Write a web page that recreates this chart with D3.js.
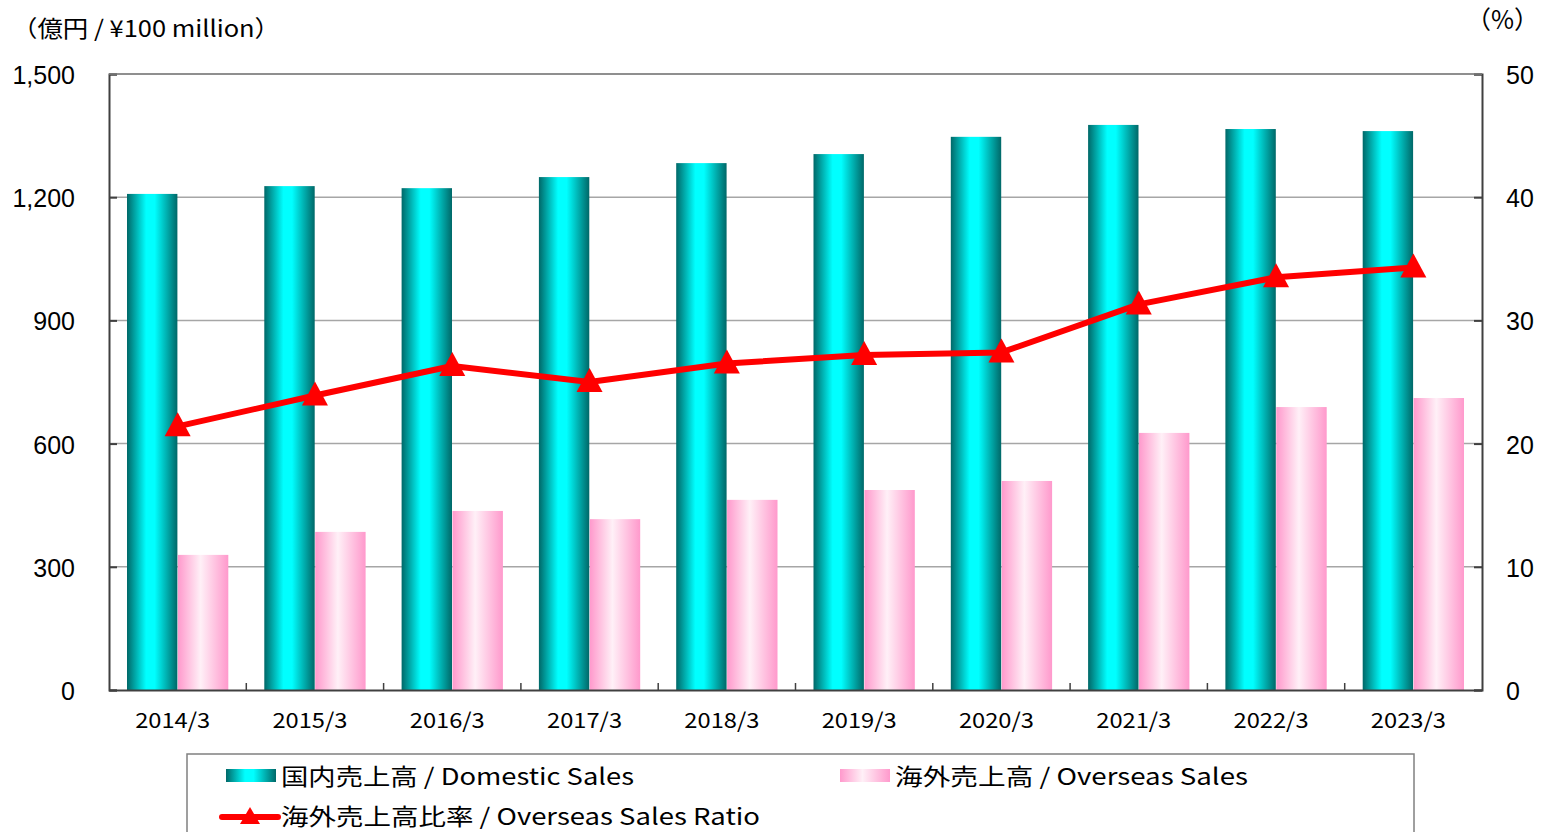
<!DOCTYPE html>
<html>
<head>
<meta charset="utf-8">
<script src="https://cdn.jsdelivr.net/npm/d3@7"></script>
<style>
  body { margin: 0; background: #fff; }
  svg { display: block; }
  .jp { font-family: "Noto Sans CJK JP", "Noto Sans", sans-serif; }
  .num { font-family: "Liberation Sans", Arial, sans-serif; }
</style>
</head>
<body>
<div id="chart"></div>
<script>
// data
const years = ["2014/3", "2015/3", "2016/3", "2017/3", "2018/3", "2019/3", "2020/3", "2021/3", "2022/3", "2023/3"];
const domestic = [1208, 1227, 1222, 1249, 1283, 1305, 1347, 1376, 1366, 1361];
const overseas = [329, 385, 436, 416, 463, 487, 509, 626, 689, 711];
const ratio = [21.4, 23.9, 26.3, 25.0, 26.5, 27.2, 27.4, 31.3, 33.5, 34.3];
const leftTicks = [0, 300, 600, 900, 1200, 1500];
const rightTicks = [0, 10, 20, 30, 40, 50];

const W = 1542, H = 832;
const pL = 109, pR = 1482, pT = 74, pB = 690;

const svg = d3.select("#chart").append("svg")
  .attr("width", W).attr("height", H);

// gradients
const defs = svg.append("defs");
const gDom = defs.append("linearGradient").attr("id", "gDom")
  .attr("x1", "0%").attr("x2", "100%").attr("y1", "0%").attr("y2", "0%");
[[0, "#006868"], [0.38, "#00ffff"], [0.55, "#00ffff"], [1, "#006868"]].forEach(s =>
  gDom.append("stop").attr("offset", s[0]).attr("stop-color", s[1]));
const gOv = defs.append("linearGradient").attr("id", "gOv")
  .attr("x1", "0%").attr("x2", "100%").attr("y1", "0%").attr("y2", "0%");
[[0, "#ff99cc"], [0.45, "#fff0f7"], [1, "#ff99cc"]].forEach(s =>
  gOv.append("stop").attr("offset", s[0]).attr("stop-color", s[1]));

// scales
const x0 = d3.scaleBand().domain(years).range([pL, pR]).padding(0);
const bw = x0.bandwidth();
const x1 = d3.scaleBand().domain(["dom", "ov"]).range([18, bw - 18]).paddingInner(0.01);
const y = d3.scaleLinear().domain([0, 1500]).range([pB, pT]);
const y2 = d3.scaleLinear().domain([0, 50]).range([pB, pT]);

// gridlines
svg.append("g").selectAll("line").data(leftTicks.filter(d => d > 0)).join("line")
  .attr("x1", pL).attr("x2", pR)
  .attr("y1", d => y(d)).attr("y2", d => y(d))
  .attr("stroke", "#a6a6a6").attr("stroke-width", 1.5);

// bars
const grp = svg.append("g").selectAll("g").data(years).join("g")
  .attr("transform", d => `translate(${x0(d)},0)`);
grp.append("rect")
  .attr("x", x1("dom")).attr("width", x1.bandwidth())
  .attr("y", (d, i) => y(domestic[i])).attr("height", (d, i) => pB - y(domestic[i]))
  .attr("fill", "url(#gDom)");
grp.append("rect")
  .attr("x", x1("ov")).attr("width", x1.bandwidth())
  .attr("y", (d, i) => y(overseas[i])).attr("height", (d, i) => pB - y(overseas[i]))
  .attr("fill", "url(#gOv)");

// left axis
const ax = svg.append("g").attr("transform", `translate(${pL},0)`)
  .call(d3.axisLeft(y).tickValues(leftTicks).tickFormat(d3.format(",")).tickSize(-8).tickPadding(34));
ax.select(".domain").attr("stroke", "#404040").attr("stroke-width", 2);
ax.selectAll(".tick line").attr("stroke", "#404040").attr("stroke-width", 2);
ax.selectAll("text").attr("class", "num").attr("font-size", 25).attr("fill", "#000").attr("dy", "0.38em");

// right axis
const ax2 = svg.append("g").attr("transform", `translate(${pR},0)`)
  .call(d3.axisRight(y2).tickValues(rightTicks).tickSize(-8).tickPadding(24));
ax2.select(".domain").attr("stroke", "#404040").attr("stroke-width", 2);
ax2.selectAll(".tick line").attr("stroke", "#404040").attr("stroke-width", 2);
ax2.selectAll("text").attr("class", "num").attr("font-size", 25).attr("fill", "#000").attr("dy", "0.38em");

// top border
svg.append("line").attr("x1", pL).attr("x2", pR).attr("y1", pT).attr("y2", pT)
  .attr("stroke", "#808080").attr("stroke-width", 1.5);

// bottom axis
const bx = svg.append("g").attr("transform", `translate(0,${pB})`)
  .call(d3.axisBottom(x0).tickSize(0).tickPadding(0));
bx.select(".domain").attr("stroke", "#404040").attr("stroke-width", 2);
bx.selectAll("text").attr("class", "jp").attr("font-size", 21).attr("fill", "#000")
  .attr("y", 38).attr("dy", 0).attr("dx", -5)
  .attr("textLength", 75).attr("lengthAdjust", "spacingAndGlyphs");
svg.append("g").selectAll("line").data(years.slice(1)).join("line")
  .attr("x1", d => x0(d)).attr("x2", d => x0(d))
  .attr("y1", pB).attr("y2", pB - 7)
  .attr("stroke", "#404040").attr("stroke-width", 1.5);

// ratio line
const cx = d => x0(d) + bw / 2;
svg.append("path").datum(ratio)
  .attr("d", d3.line().x((d, i) => cx(years[i])).y(d => y2(d)))
  .attr("fill", "none").attr("stroke", "#ff0000").attr("stroke-width", 6)
  .attr("stroke-linejoin", "round");
const tri = "M0,-14L13,10L-13,10Z";
svg.append("g").selectAll("path").data(ratio).join("path")
  .attr("d", tri)
  .attr("transform", (d, i) => `translate(${cx(years[i])},${y2(d)})`)
  .attr("fill", "#ff0000");

// unit labels
svg.append("text").attr("class", "jp").attr("x", 12).attr("y", 37)
  .attr("font-size", 23).attr("textLength", 268).attr("lengthAdjust", "spacingAndGlyphs")
  .text("（億円 / ¥100 million）");
svg.append("text").attr("class", "jp").attr("x", 1539).attr("y", 29)
  .attr("text-anchor", "end").attr("font-size", 25)
  .text("（%）");

// legend
const lg = svg.append("g");
lg.append("rect").attr("x", 187).attr("y", 754).attr("width", 1227).attr("height", 120)
  .attr("fill", "#fff").attr("stroke", "#808080").attr("stroke-width", 1.5);
lg.append("rect").attr("x", 226).attr("y", 769).attr("width", 50).attr("height", 13).attr("fill", "url(#gDom)");
lg.append("text").attr("class", "jp").attr("x", 281).attr("y", 785).attr("font-size", 23)
  .attr("textLength", 353).attr("lengthAdjust", "spacingAndGlyphs")
  .text("国内売上高 / Domestic Sales");
lg.append("rect").attr("x", 840).attr("y", 769).attr("width", 50).attr("height", 13).attr("fill", "url(#gOv)");
lg.append("text").attr("class", "jp").attr("x", 895).attr("y", 785).attr("font-size", 23)
  .attr("textLength", 353).attr("lengthAdjust", "spacingAndGlyphs")
  .text("海外売上高 / Overseas Sales");
lg.append("line").attr("x1", 222).attr("x2", 278).attr("y1", 817).attr("y2", 817)
  .attr("stroke", "#ff0000").attr("stroke-width", 6).attr("stroke-linecap", "round");
lg.append("path").attr("d", "M0,-10L10,7L-10,7Z").attr("transform", "translate(250,817)").attr("fill", "#ff0000");
lg.append("text").attr("class", "jp").attr("x", 281).attr("y", 825).attr("font-size", 23)
  .attr("textLength", 479).attr("lengthAdjust", "spacingAndGlyphs")
  .text("海外売上高比率 / Overseas Sales Ratio");
</script>
</body>
</html>
